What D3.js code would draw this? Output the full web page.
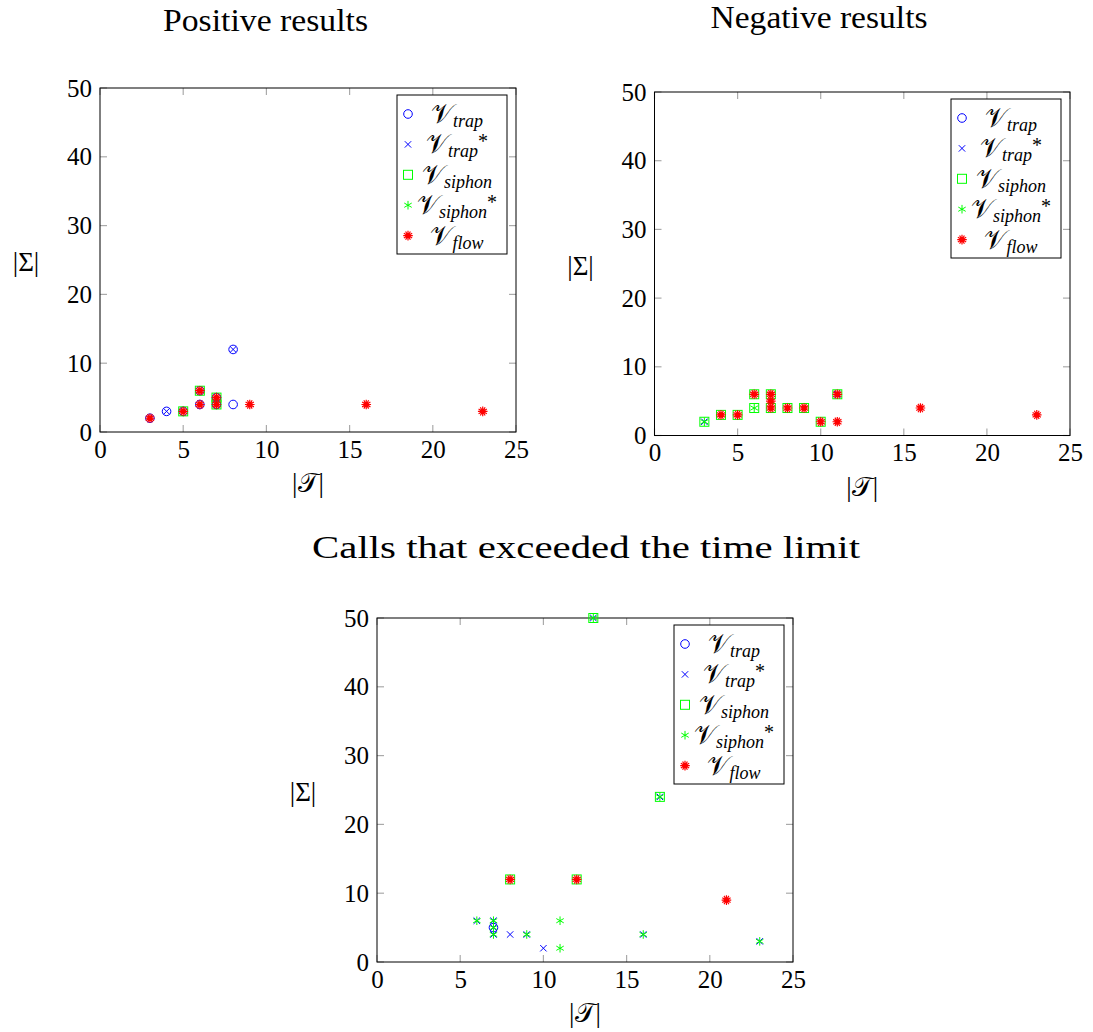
<!DOCTYPE html>
<html><head><meta charset="utf-8">
<script src="https://cdn.jsdelivr.net/npm/d3@7"></script>
<style>body{margin:0;background:#fff} text{font-family:"Liberation Serif","DejaVu Serif",serif;fill:#000}</style>
</head><body><svg id="c" width="1093" height="1032"></svg>
<script>
// ---- data ----
const xTicks = [0, 5, 10, 15, 20, 25];
const yTicks = [0, 10, 20, 30, 40, 50];
const titles = ["Positive results", "Negative results", "Calls that exceeded the time limit"];
const seriesKeys = ["trap", "trapStar", "siphon", "siphonStar", "flow"];
const seriesSub = ["trap", "trap", "siphon", "siphon", "flow"];
const seriesAsterisk = [false, true, false, true, false];

// Positive results  [|T|, |Σ|]
const posTrap = [[3,2],[4,3],[5,3],[6,4],[6,6],[7,4],[7,5],[8,4],[8,12]];
const posTrapStar = [[4,3],[8,12]];
const posSiphon = [[5,3],[6,6],[7,4],[7,5]];
const posSiphonStar = [];
const posFlow = [[3,2],[5,3],[6,4],[6,6],[7,4],[7,5],[9,4],[16,4],[23,3]];

// Negative results
const negTrap = [];
const negTrapStar = [[3,2],[11,6]];
const negSiphon = [[3,2],[4,3],[5,3],[6,4],[6,6],[7,4],[7,6],[8,4],[9,4],[10,2],[11,6]];
const negSiphonStar = [[3,2],[6,4]];
const negFlow = [[4,3],[5,3],[6,6],[7,4],[7,5],[7,6],[8,4],[9,4],[10,2],[11,2],[11,6],[16,4],[23,3]];

// Calls that exceeded the time limit
const toTrap = [[7,5]];
const toTrapStar = [[6,6],[7,4],[7,5],[7,6],[8,4],[9,4],[10,2],[13,50],[16,4],[17,24],[23,3]];
const toSiphon = [[8,12],[12,12],[13,50],[17,24]];
const toSiphonStar = [[6,6],[7,4],[7,5],[7,6],[9,4],[11,2],[11,6],[13,50],[16,4],[17,24],[23,3]];
const toFlow = [[8,12],[12,12],[21,9]];

const panelData = [
  [posTrap, posTrapStar, posSiphon, posSiphonStar, posFlow],
  [negTrap, negTrapStar, negSiphon, negSiphonStar, negFlow],
  [toTrap, toTrapStar, toSiphon, toSiphonStar, toFlow]
];

// ---- layout ----
const panels = [
  {l:100, r:516, t:88, b:432, tx:265.5, ty:31, tw:205},
  {l:654.5, r:1070, t:92, b:435.5, tx:819, ty:28, tw:217},
  {l:377, r:793, t:618, b:962, tx:586, ty:558, tw:548}
];

const svg = d3.select("#c");
const BLUE = "#0000ff", GREEN = "#00ff00", RED = "#ff0000";

function mark(g, k, x, y) {
  if (k === 0) {
    g.append("circle").attr("cx", x).attr("cy", y).attr("r", 4.3)
      .attr("fill", "none").attr("stroke", BLUE).attr("stroke-width", 1);
  } else if (k === 1) {
    const s = 3.2;
    g.append("path").attr("d", `M${x-s},${y-s}L${x+s},${y+s}M${x-s},${y+s}L${x+s},${y-s}`)
      .attr("stroke", BLUE).attr("stroke-width", 1).attr("fill", "none");
  } else if (k === 2) {
    g.append("rect").attr("x", x-4.5).attr("y", y-4.5).attr("width", 9).attr("height", 9)
      .attr("fill", "none").attr("stroke", GREEN).attr("stroke-width", 1);
  } else if (k === 3) {
    const s = 4.3;
    let d = "";
    [90, 30, 150].forEach(a => {
      const r = a * Math.PI / 180, dx = s * Math.cos(r), dy = s * Math.sin(r);
      d += `M${x-dx},${y-dy}L${x+dx},${y+dy}`;
    });
    g.append("path").attr("d", d).attr("stroke", GREEN).attr("stroke-width", 1).attr("fill", "none");
  } else {
    const s = 4.8;
    let d = "";
    for (let i = 0; i < 6; i++) {
      const r = i * Math.PI / 6, dx = s * Math.cos(r), dy = s * Math.sin(r);
      d += `M${x-dx},${y-dy}L${x+dx},${y+dy}`;
    }
    g.append("path").attr("d", d).attr("stroke", RED).attr("stroke-width", 1.2).attr("fill", "none");
    g.append("circle").attr("cx", x).attr("cy", y).attr("r", 2.6).attr("fill", RED);
  }
}

panels.forEach((p, pi) => {
  const x = d3.scaleLinear().domain([0, 25]).range([p.l, p.r]);
  const y = d3.scaleLinear().domain([0, 50]).range([p.b, p.t]);
  const g = svg.append("g");

  // title
  g.append("text").attr("x", p.tx).attr("y", p.ty).attr("text-anchor", "middle")
    .attr("font-size", 32).attr("textLength", p.tw).attr("lengthAdjust", "spacingAndGlyphs")
    .text(titles[pi]);

  // ticks (inward, gray, all four sides)
  const tk = g.append("g").attr("stroke", "#aaa").attr("stroke-width", 1.2);
  xTicks.forEach(v => {
    tk.append("line").attr("x1", x(v)).attr("x2", x(v)).attr("y1", p.b).attr("y2", p.b - 7);
    tk.append("line").attr("x1", x(v)).attr("x2", x(v)).attr("y1", p.t).attr("y2", p.t + 7);
  });
  yTicks.forEach(v => {
    tk.append("line").attr("y1", y(v)).attr("y2", y(v)).attr("x1", p.l).attr("x2", p.l + 7);
    tk.append("line").attr("y1", y(v)).attr("y2", y(v)).attr("x1", p.r).attr("x2", p.r - 7);
  });

  // axes via d3 for labels
  const xa = g.append("g").attr("transform", `translate(0,${p.b})`)
    .call(d3.axisBottom(x).tickValues(xTicks).tickSize(0).tickPadding(10));
  const ya = g.append("g").attr("transform", `translate(${p.l},0)`)
    .call(d3.axisLeft(y).tickValues(yTicks).tickSize(0).tickPadding(8));
  [xa, ya].forEach(a => {
    a.select(".domain").remove();
    a.selectAll("text").attr("font-size", 25).attr("fill", "#000");
  });
  xa.selectAll("text").attr("dy", "0.71em").attr("y", 8);

  // frame
  g.append("rect").attr("x", p.l).attr("y", p.t).attr("width", p.r - p.l).attr("height", p.b - p.t)
    .attr("fill", "none").attr("stroke", "#000").attr("stroke-width", 1);

  // axis labels
  const xl = g.append("text").attr("x", (p.l + p.r) / 2).attr("y", p.b + 60).attr("text-anchor", "middle").attr("font-size", 27);
  xl.append("tspan").text("|");
  xl.append("tspan").text("𝒯");
  xl.append("tspan").text("|");
  const yl = g.append("text").attr("x", p.l - 74).attr("y", (p.t + p.b) / 2 + 11).attr("text-anchor", "middle").attr("font-size", 27);
  yl.text("|Σ|");

  // marks
  const mg = g.append("g");
  panelData[pi].forEach((arr, k) => {
    arr.forEach(d => mark(mg, k, x(d[0]), y(d[1])));
  });

  // legend
  const bw = 110, bh = 159;
  const bx = p.r - 9 - bw, by = p.t + 7;
  const lg = g.append("g");
  lg.append("rect").attr("x", bx).attr("y", by).attr("width", bw).attr("height", bh)
    .attr("fill", "#fff").attr("stroke", "#000").attr("stroke-width", 1);
  seriesKeys.forEach((key, k) => {
    const ey = by + 19 + 30.4 * k;
    mark(lg, k, bx + 11, ey);
    const t = lg.append("text").attr("x", bx + 60).attr("y", ey + 9).attr("text-anchor", "middle").attr("font-size", 27);
    t.append("tspan").text("𝒱");
    t.append("tspan").attr("font-size", 18).attr("font-style", "italic").attr("dy", 4).text(seriesSub[k]);
    if (seriesAsterisk[k]) t.append("tspan").attr("font-size", 20).attr("dy", -9).text("*");
  });
});
</script>
</body></html>
